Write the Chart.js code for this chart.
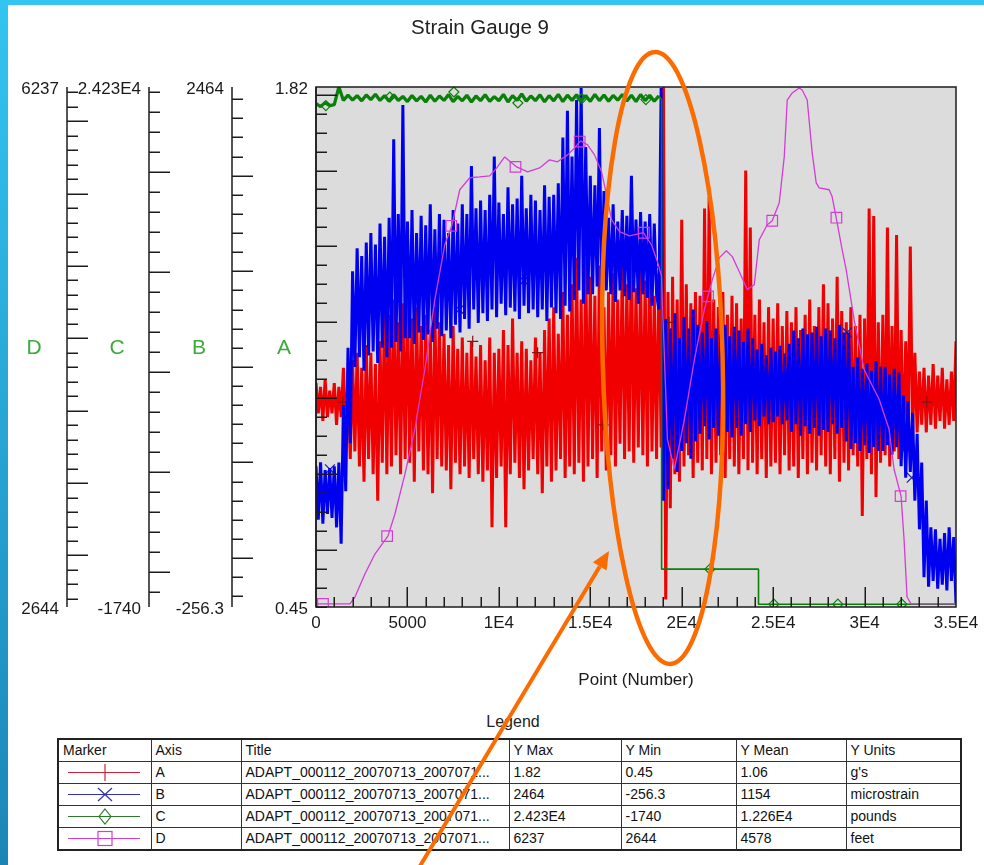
<!DOCTYPE html>
<html><head><meta charset="utf-8">
<script src="https://cdn.jsdelivr.net/npm/chart.js@4.4.1/dist/chart.umd.min.js"></script>
<style>
html,body{margin:0;padding:0;background:#fff;}
body{width:984px;height:865px;position:relative;overflow:hidden;font-family:"Liberation Sans",Arial,sans-serif;}
#bandTop{position:absolute;left:0;top:0;width:984px;height:5px;background:#33c4f1;z-index:3;}
#bandLeft{position:absolute;left:0;top:0;width:8px;height:865px;background:linear-gradient(#33c4f1,#1b86b6);z-index:3;}
#legendTitle{position:absolute;left:0;width:1026px;top:713px;text-align:center;font-size:16px;color:#222;z-index:1;}
#legend{position:absolute;left:57px;top:738px;width:903px;border-collapse:collapse;font-size:14px;color:#111;table-layout:fixed;border:2px solid #222;z-index:1;}
#legend td{border:1px solid #333;height:21px;padding:0 0 0 4px;text-align:left;white-space:nowrap;overflow:hidden;line-height:21px;}
#legend td.mk{padding:0;}
#legend svg{display:block;}
#chart{position:absolute;left:0;top:0;z-index:2;pointer-events:none;}
</style>
</head><body>
<div id="bandTop"></div><div id="bandLeft"></div>
<div id="legendTitle">Legend</div>
<table id="legend">
<colgroup><col style="width:93px"><col style="width:90px"><col style="width:268px"><col style="width:112px"><col style="width:115px"><col style="width:110px"><col style="width:115px"></colgroup>
<tbody id="legendBody"></tbody>
</table>
<canvas id="chart" width="984" height="865"></canvas>
<script>
// ---------------- data ----------------
const xTickValues = [0, 5000, 10000, 15000, 20000, 25000, 30000, 35000];
const xTickLabels = ['0', '5000', '1E4', '1.5E4', '2E4', '2.5E4', '3E4', '3.5E4'];
const noisyStep = 125;   // sample spacing (points) of the A and B traces
const greenStep = 250;   // sample spacing of the noisy part of C

// A (g's) alternating peaks / troughs every 125 points
const seriesA = [
1.04,0.96,1.03,0.94,1.05,0.95,1.02,0.96,
1.04,0.93,1.03,0.95,1.08,0.90,1.06,0.84,
1.10,0.86,1.12,0.82,1.08,0.78,1.14,0.84,
1.12,0.80,1.09,0.73,1.15,0.83,1.26,0.80,
1.22,0.82,1.26,0.85,1.20,0.80,1.25,0.84,
1.27,0.83,1.21,0.78,1.24,0.86,1.19,0.81,
1.22,0.80,1.18,0.75,1.24,0.84,1.20,0.82,
1.17,0.81,1.14,0.76,1.19,0.83,1.13,0.80,
1.16,0.82,1.12,0.79,1.15,0.84,1.11,0.80,
1.14,0.78,1.10,0.81,1.16,0.66,1.12,0.79,
1.13,0.82,1.18,0.66,1.14,0.80,1.21,0.83,
1.12,0.79,1.15,0.76,1.13,0.81,1.10,0.84,
1.16,0.80,1.12,0.75,1.18,0.82,1.21,0.78,
1.24,0.81,1.17,0.84,1.28,0.79,1.22,0.82,
1.30,0.80,1.37,0.83,1.26,0.78,1.39,0.82,
1.32,0.84,1.27,0.79,1.35,0.86,1.24,0.81,
1.28,0.85,1.33,0.82,1.26,0.88,1.36,0.84,
1.30,0.86,1.42,0.83,1.29,0.87,1.34,0.85,
1.31,0.82,1.38,0.86,1.27,0.84,1.33,0.87,
1.82,0.47,1.28,0.71,1.32,0.80,1.26,0.78,
1.47,0.82,1.30,0.85,1.25,0.79,1.28,0.83,
1.27,0.81,1.50,0.84,1.53,0.80,1.26,0.83,
1.24,0.85,1.28,0.79,1.22,0.84,1.27,0.82,
1.25,0.80,1.21,0.84,1.60,0.81,1.45,0.83,
1.22,0.80,1.26,0.84,1.20,0.79,1.24,0.82,
1.21,0.83,1.25,0.80,1.19,0.85,1.23,0.81,
1.20,0.82,1.24,0.79,1.18,0.84,1.22,0.80,
1.26,0.83,1.19,0.81,1.24,0.85,1.30,0.82,
1.25,0.80,1.21,0.84,1.32,0.78,1.23,0.83,
1.20,0.81,1.24,0.85,1.19,0.82,1.22,0.69,
1.21,0.84,1.50,0.80,1.48,0.74,1.20,0.83,
1.22,0.85,1.45,0.82,1.19,0.86,1.43,0.84,
1.18,0.86,1.15,0.88,1.40,0.90,1.12,0.91,
1.07,0.93,1.08,0.91,1.06,0.93,1.09,0.92,
1.06,0.94,1.08,0.92,1.05,0.93,1.07,0.94,
1.15];

// B (microstrain) every 125 points
const seriesB = [
480,200,500,180,460,230,470,210,
480,160,500,75,800,350,1100,600,
1500,1000,1620,1050,1580,980,1650,1060,
1700,1080,1640,1020,1750,1100,1680,1050,
1780,1100,2190,1130,1800,1080,2370,1150,
1760,1150,1820,1120,1700,1180,1790,1140,
1740,1170,1850,1130,1720,1200,1800,1160,
1770,1190,1700,1150,1820,1220,1750,1180,
1850,1250,1800,1200,2050,1300,1830,1230,
1870,1280,1820,1240,1900,1300,2100,1260,
1860,1330,1800,1270,1940,1310,1850,1290,
1880,1250,2000,1320,1830,1280,1900,1300,
1870,1260,1820,1300,1950,1240,1890,1310,
1900,1280,1960,1250,2200,1320,2340,1290,
2100,1350,2396,1400,2459,1330,2150,1380,
2000,1380,1950,1420,2250,1350,1920,1400,
1780,1380,1850,1340,1760,1400,1820,1370,
1790,1350,2000,1390,1770,1330,1810,1380,
1760,1360,1800,1320,1750,1380,1300,2459,
300,1250,360,1200,520,1280,450,1150,
560,1260,600,1200,520,1300,610,1220,
650,1180,690,1240,620,1150,680,1200,
640,1170,700,1220,660,1160,630,1210,
680,1190,640,1130,700,1200,660,1150,
720,1090,690,1120,740,1060,700,1100,
710,1080,740,1110,700,1070,720,1120,
660,1190,700,1150,640,1200,690,1170,
650,1180,680,1210,640,1160,670,1200,
660,1190,700,1150,650,1220,680,1180,
610,1180,570,1000,600,1050,560,990,
590,1020,550,980,580,1030,560,1000,
560,1000,590,960,540,990,580,970,
480,850,420,820,450,760,300,650,
150,500,-100,300,-150,160,-120,150,
-160,100,-140,130,-170,160,-120,110,
-240];

// C (pounds): noisy plateau every 250 points, then the step tail
const seriesCNoisy = [
23400,23250,23450,23300,23350,24230,23560,23820,23580,23800,
23540,23830,23600,23870,23560,23800,23520,23840,23560,23760,
23500,23800,23540,23760,23480,23820,23520,23780,23560,23850,
23500,23760,23540,23820,23480,23780,23550,23840,23510,23750,
23540,23860,23480,23800,23560,23880,23520,23780,23550,23840,
23490,23800,23540,23860,23500,23820,23560,23840,23530,23800,
23510,23860,23550,23830,23520,23810,23570,23860,23530,23820,
23500,23850,23550,23820,23520,23790];
const seriesCTailX = [18750, 18900, 18900, 24200, 24200, 35000];
const seriesCTailY = [23790, 23600, 150, 150, -1600, -1600];

// D (feet)
const seriesDX = [0,1856,2129,2675,3221,3931,4313,4859,5405,5951,6497,7043,7426,7862,8408,8954,9500,9883,10319,10975,11575,12230,12776,13213,13759,14141,14469,14851,15233,15616,15889,16162,16598,17144,17909,18346,18673,18892,19219,19601,20147,20693,21239,21676,22058,22441,22768,23150,23587,23969,24242,24679,24952,25334,25607,25771,26044,26426,26590,26863,27136,27355,27518,28064,28228,28447,28774,28993,29429,29975,30794,31340,31613,31996,32159,32323,32542,35000];
const seriesDY = [2665,2665,2713,2872,3010,3134,3285,3561,3872,4285,4768,5147,5278,5527,5610,5616,5623,5678,5754,5685,5651,5678,5734,5720,5768,5816,5865,5837,5768,5651,5492,5320,5237,5209,5230,5147,5030,4933,3803,3596,3941,4354,4699,4906,5058,5106,5065,4961,4837,4871,5182,5285,5313,5437,5754,6147,6196,6230,6216,6147,5782,5575,5540,5527,5478,5334,5113,4975,4630,4285,4079,3872,3596,3410,3113,2713,2665,2665];

// marker positions on each trace
const markAX = [1470,5050,8570,12120,15700,19300,22800,26300,29850,33400];
const markAY = [0.99,1.32,1.15,1.12,0.93,1.20,1.04,1.00,1.02,0.99];
const markBX = [764,4299,7834,11369,14904,18439,21974,25509,29044,32579];
const markBY = [464,1577,1300,1450,1600,1500,900,850,1180,420];
const markCX = [540,4040,7540,11040,14540,18040,21540,25040,28540,32040];
const markCY = [23300,23730,23980,23430,23650,23600,150,-1600,-1600,-1600];
const markDX = [380,3890,7400,10910,14420,17930,21440,24950,28460,31970];
const markDY = [2665,3134,5278,5685,5860,5230,4790,5313,5334,3410];

// axes: ranges and end labels
const axisNames = ['D', 'C', 'B', 'A'];
const axisMin = [2644, -1740, -256.3, 0.45];
const axisMax = [6237, 24230, 2464, 1.82];
const axisMinLabels = ['2644', '-1740', '-256.3', '0.45'];
const axisMaxLabels = ['6237', '2.423E4', '2464', '1.82'];
const axisMinorStep = [100, 1000, 100, 0.05];
const axisMajorStep = [500, 5000, 500, 0.2];

// legend table
const legendAxis = ['A', 'B', 'C', 'D'];
const legendTitle = ['ADAPT_000112_20070713_2007071...', 'ADAPT_000112_20070713_2007071...', 'ADAPT_000112_20070713_2007071...', 'ADAPT_000112_20070713_2007071...'];
const legendYMax = ['1.82', '2464', '2.423E4', '6237'];
const legendYMin = ['0.45', '-256.3', '-1740', '2644'];
const legendYMean = ['1.06', '1154', '1.226E4', '4578'];
const legendUnits = ["g's", 'microstrain', 'pounds', 'feet'];
const eventPoint = 18900;

// ---------------- style ----------------
const COL = {A: '#f00000', B: '#0000f0', C: '#0a800a', D: '#d43cd4'};
const LEG = {A: '#cc2238', B: '#3434a8', C: '#2d7a2d', D: '#d040d0'};
const FONT = '"Liberation Sans", Arial, sans-serif';
const axisLineX = {D: 67, C: 149, B: 232, A: null};
const axisLetterX = {D: 34, C: 117, B: 199, A: 284};

// ---------------- legend table ----------------
function markerSvg(k) {
  const c = LEG[k];
  let m = '';
  if (k === 'A') m = `<line x1="46" y1="2" x2="46" y2="19" stroke="${c}" stroke-width="1.2"/>`;
  if (k === 'B') m = `<line x1="39" y1="4" x2="53" y2="17" stroke="${c}" stroke-width="1.2"/><line x1="53" y1="4" x2="39" y2="17" stroke="${c}" stroke-width="1.2"/>`;
  if (k === 'C') m = `<polygon points="46,3 52,10.5 46,18 40,10.5" fill="none" stroke="${c}" stroke-width="1.2"/>`;
  if (k === 'D') m = `<rect x="39" y="3.5" width="14" height="14" fill="none" stroke="${c}" stroke-width="1.2"/>`;
  return `<svg width="93" height="21"><line x1="9" y1="10.5" x2="81" y2="10.5" stroke="${c}" stroke-width="1.2"/>${m}</svg>`;
}
(function buildLegend() {
  const body = document.getElementById('legendBody');
  let html = '<tr><td>Marker</td><td>Axis</td><td>Title</td><td>Y Max</td><td>Y Min</td><td>Y Mean</td><td>Y Units</td></tr>';
  legendAxis.forEach((k, i) => {
    html += `<tr><td class="mk">${markerSvg(k)}</td><td>${k}</td><td>${legendTitle[i]}</td><td>${legendYMax[i]}</td><td>${legendYMin[i]}</td><td>${legendYMean[i]}</td><td>${legendUnits[i]}</td></tr>`;
  });
  body.innerHTML = html;
})();

// ---------------- datasets ----------------
const pts = (xs, ys) => xs.map((x, i) => ({x, y: ys[i]}));
const dataA = seriesA.map((v, i) => ({x: i * noisyStep, y: v}));
const dataB = seriesB.map((v, i) => ({x: i * noisyStep, y: v}));
const dataCNoisy = seriesCNoisy.map((v, i) => ({x: i * greenStep, y: v}));
const dataCTail = pts(seriesCTailX, seriesCTailY);
const dataD = pts(seriesDX, seriesDY);

const lineBase = {pointRadius: 0, tension: 0, fill: false, spanGaps: true, borderJoinStyle: 'bevel'};
const markBase = {showLine: false, pointBackgroundColor: 'rgba(0,0,0,0)', pointBorderWidth: 1.2};

const datasets = [
  Object.assign({label: 'A', data: dataA, yAxisID: 'yA', borderColor: COL.A, borderWidth: 3, order: 8}, lineBase),
  Object.assign({label: 'A marks', data: pts(markAX, markAY), yAxisID: 'yA', pointStyle: 'cross', pointRadius: 5.5, pointBorderColor: '#8a1010', order: 7.5}, markBase),
  Object.assign({label: 'B marks', data: pts(markBX, markBY), yAxisID: 'yB', pointStyle: 'crossRot', pointRadius: 7, pointBorderColor: '#2020a0', order: 7}, markBase),
  Object.assign({label: 'B', data: dataB, yAxisID: 'yB', borderColor: COL.B, borderWidth: 3, order: 6}, lineBase),
  Object.assign({label: 'C', data: dataCNoisy, yAxisID: 'yC', borderColor: COL.C, borderWidth: 3.3, order: 4}, lineBase),
  Object.assign({label: 'C step', data: dataCTail, yAxisID: 'yC', borderColor: COL.C, borderWidth: 1.6, order: 4}, lineBase),
  Object.assign({label: 'C marks', data: pts(markCX, markCY), yAxisID: 'yC', pointStyle: 'rectRot', pointRadius: 5, pointBorderColor: COL.C, order: 3}, markBase),
  Object.assign({label: 'D', data: dataD, yAxisID: 'yD', borderColor: COL.D, borderWidth: 1.3, order: 2}, lineBase),
  Object.assign({label: 'D marks', data: pts(markDX, markDY), yAxisID: 'yD', pointStyle: 'rect', pointRadius: 7.5, pointBorderColor: COL.D, order: 1}, markBase),
];

// ---------------- plugin: frame, axes, texts, annotation ----------------
function seg(ctx, x1, y1, x2, y2) { ctx.beginPath(); ctx.moveTo(x1, y1); ctx.lineTo(x2, y2); ctx.stroke(); }

const decor = {
  id: 'decor',
  beforeDatasetsDraw(chart) {
    const {ctx, chartArea: ca} = chart;
    ctx.save();
    ctx.fillStyle = '#dcdcdc';
    ctx.fillRect(ca.left, ca.top, ca.right - ca.left, ca.bottom - ca.top);
    ctx.restore();
  },
  afterDatasetsDraw(chart) {
    const {ctx, chartArea: ca, scales} = chart;
    ctx.save();
    ctx.strokeStyle = '#1c1c1c';
    ctx.lineWidth = 1.5;
    ctx.strokeRect(ca.left, ca.top, ca.right - ca.left, ca.bottom - ca.top);

    // y axes
    axisNames.forEach((name, ai) => {
      const s = scales['y' + name];
      const lx = axisLineX[name] === null ? ca.left : axisLineX[name];
      ctx.strokeStyle = '#1c1c1c';
      ctx.lineWidth = 1.5;
      seg(ctx, lx, ca.top, lx, ca.bottom);
      const minor = axisMinorStep[ai], ratio = Math.round(axisMajorStep[ai] / minor);
      for (let k = Math.ceil(s.min / minor - 1e-9); k * minor <= s.max + 1e-9; k++) {
        const y = Math.round(s.getPixelForValue(k * minor)) + 0.25;
        const len = (k % ratio === 0) ? 21 : 11;
        seg(ctx, lx, y, lx + len, y);
      }
      ctx.fillStyle = '#1a1a1a';
      ctx.font = '17px ' + FONT;
      ctx.textAlign = 'right';
      ctx.textBaseline = 'middle';
      ctx.fillText(axisMaxLabels[ai], lx - 8, s.getPixelForValue(s.max) + 2);
      ctx.fillText(axisMinLabels[ai], lx - 8, s.getPixelForValue(s.min) + 2);
      ctx.fillStyle = '#3caa3c';
      ctx.font = '21px ' + FONT;
      ctx.textAlign = 'center';
      ctx.fillText(name, axisLetterX[name], (ca.top + ca.bottom) / 2 + 1);
    });

    // x axis ticks (inside, pointing up)
    const xs = scales.x;
    ctx.strokeStyle = '#1c1c1c';
    ctx.lineWidth = 1.5;
    for (let v = 1000; v < 35000; v += 1000) {
      const x = Math.round(xs.getPixelForValue(v)) + 0.25;
      seg(ctx, x, ca.bottom, x, ca.bottom - (v % 5000 === 0 ? 20 : 10));
    }
    ctx.fillStyle = '#1a1a1a';
    ctx.font = '17px ' + FONT;
    ctx.textAlign = 'center';
    ctx.textBaseline = 'middle';
    xTickValues.forEach((v, i) => ctx.fillText(xTickLabels[i], xs.getPixelForValue(v), ca.bottom + 16));
    ctx.fillText('Point (Number)', (ca.left + ca.right) / 2, ca.bottom + 73);
    ctx.font = '20.5px ' + FONT;
    ctx.fillStyle = '#222';
    ctx.fillText('Strain Gauge 9', 480, 28);
    ctx.restore();
  },
  afterDraw(chart) {
    const {ctx, chartArea: ca, scales} = chart;
    ctx.save();
    ctx.strokeStyle = '#fb6c00';
    ctx.fillStyle = '#fb6c00';
    ctx.lineWidth = 4.5;
    const cx = scales.x.getPixelForValue(eventPoint);
    ctx.beginPath();
    ctx.ellipse(cx + 1, 358, 60, 306, -0.025, 0, Math.PI * 2);
    ctx.stroke();
    // arrow
    const x0 = 420, y0 = 866, x1 = 609, y1 = 551;
    const ang = Math.atan2(y1 - y0, x1 - x0);
    const hl = 18, hw = 8;
    const bx = x1 - hl * Math.cos(ang), by = y1 - hl * Math.sin(ang);
    ctx.lineWidth = 4;
    seg(ctx, x0, y0, bx, by);
    ctx.beginPath();
    ctx.moveTo(x1, y1);
    ctx.lineTo(bx + hw * Math.sin(ang), by - hw * Math.cos(ang));
    ctx.lineTo(bx - hw * Math.sin(ang), by + hw * Math.cos(ang));
    ctx.closePath();
    ctx.fill();
    ctx.restore();
  }
};

const hiddenY = (min, max) => ({type: 'linear', display: false, min, max});
new Chart(document.getElementById('chart'), {
  type: 'line',
  data: {datasets},
  options: {
    responsive: false,
    animation: false,
    events: [],
    normalized: true,
    layout: {padding: {left: 316, right: 28, top: 87, bottom: 258}},
    plugins: {legend: {display: false}, title: {display: false}, tooltip: {enabled: false}},
    scales: {
      x: {type: 'linear', display: false, min: 0, max: 35000},
      yA: hiddenY(axisMin[3], axisMax[3]),
      yB: hiddenY(axisMin[2], axisMax[2]),
      yC: hiddenY(axisMin[1], axisMax[1]),
      yD: hiddenY(axisMin[0], axisMax[0]),
    }
  },
  plugins: [decor]
});
</script>
</body></html>
